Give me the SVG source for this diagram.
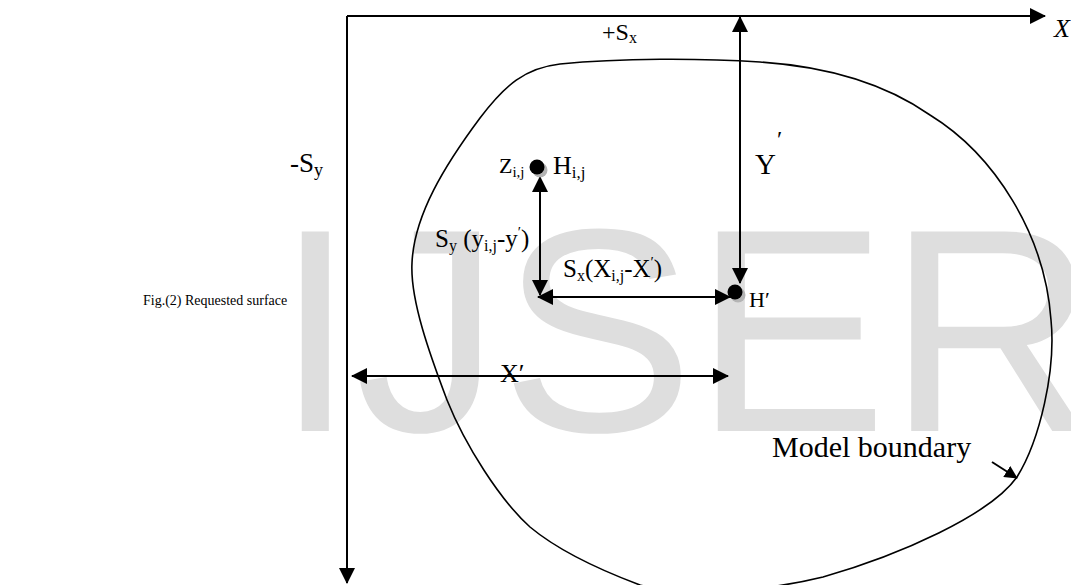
<svg xmlns="http://www.w3.org/2000/svg" width="1071" height="585" viewBox="0 0 1071 585">
<style>
.t{font-family:"Liberation Serif","Times New Roman",serif;fill:#000}
.ln{stroke:#000;stroke-width:2;fill:none}
.bd{stroke:#000;stroke-width:1.6;fill:none}
.wm{font-family:"Liberation Sans",Arial,sans-serif;fill:#dedede}
</style>
<defs>
<marker id="ah" viewBox="0 0 16 16" refX="15" refY="8" markerWidth="16" markerHeight="16" markerUnits="userSpaceOnUse" orient="auto-start-reverse">
<path d="M0,0 L16,8 L0,16 z" fill="#000"/>
</marker>
<marker id="ahs" viewBox="0 0 16 16" refX="15" refY="8" markerWidth="13" markerHeight="13" markerUnits="userSpaceOnUse" orient="auto">
<path d="M0,0 L16,8 L0,16 z" fill="#000"/>
</marker>
</defs>
<rect width="1071" height="585" fill="#fff"/>
<text class="wm" x="275" y="431" font-size="290">IJSER</text>

<g id="boundary">
<path class="bd" d="M480,118 C505,85 525,68 560,64 C620,58 700,58 760,62 C820,66 880,80 930,115 C995,155 1045,235 1051,320 C1056,370 1040,440 1017,477 C990,515 900,555 823,577 C770,590 690,598 640,585 C600,570 560,552 530,527 C500,500 465,445 447,400 C430,355 410,300 412,263 C414,215 445,165 480,118 Z"/>
</g>

<g id="connectors">
<path class="ln" d="M347,16 H1045" marker-end="url(#ah)"/>
<path class="ln" d="M347,16 V583" marker-end="url(#ah)"/>
<path class="ln" d="M740,17 V283" marker-start="url(#ah)" marker-end="url(#ah)"/>
<path class="ln" d="M540,177 V295" marker-start="url(#ah)" marker-end="url(#ah)"/>
<path class="ln" d="M538,297 H730" marker-start="url(#ah)" marker-end="url(#ah)"/>
<path class="ln" d="M352,376 H728" marker-start="url(#ah)" marker-end="url(#ah)"/>
<path class="ln" d="M992,462 L1017,478" marker-end="url(#ahs)"/>
</g>

<g id="axis-labels">
<text class="t" x="1054" y="37" font-size="26" font-style="italic">X</text>
<text class="t" x="602" y="40" font-size="24">+S<tspan font-size="16" dy="3">x</tspan></text>
<text class="t" x="290" y="172" font-size="27">-S<tspan font-size="18" dy="4">y</tspan></text>
</g>

<g id="node-zij">
<circle cx="540" cy="170" r="7.5" fill="#b4b4b4"/>
<circle cx="537" cy="167" r="7.5" fill="#000"/>
<text class="t" x="499" y="173" font-size="22">Z<tspan font-size="15" dy="4">i,j</tspan></text>
<text class="t" x="553" y="174" font-size="26">H<tspan font-size="17" dy="4">i,j</tspan></text>
</g>

<g id="node-hprime">
<circle cx="738" cy="295" r="7.5" fill="#b4b4b4"/>
<circle cx="735" cy="292" r="7.5" fill="#000"/>
<text class="t" x="749" y="307" font-size="22">H′</text>
</g>

<g id="label-yprime">
<text class="t" x="755" y="174" font-size="29">Y</text>
<text class="t" x="777" y="147" font-size="24">′</text>
</g>

<g id="label-sy">
<text class="t" x="435" y="247" font-size="25">S<tspan font-size="16" dy="4">y</tspan><tspan dy="-4"> (y</tspan><tspan font-size="16" dy="4">i,j</tspan><tspan dy="-4">-y</tspan><tspan font-size="15" dy="-10">′</tspan><tspan dy="10">)</tspan></text>
</g>

<g id="label-sx">
<text class="t" x="563" y="277" font-size="25">S<tspan font-size="16" dy="4">x</tspan><tspan dy="-4">(X</tspan><tspan font-size="16" dy="4">i,j</tspan><tspan dy="-4">-X</tspan><tspan font-size="15" dy="-10">′</tspan><tspan dy="10">)</tspan></text>
</g>

<g id="label-xprime">
<text class="t" x="500" y="382" font-size="26">X′</text>
</g>

<g id="label-model">
<text class="t" x="772" y="457" font-size="30">Model boundary</text>
</g>

<g id="caption">
<text class="t" x="143" y="305" font-size="14">Fig.(2) Requested surface</text>
</g>
</svg>
